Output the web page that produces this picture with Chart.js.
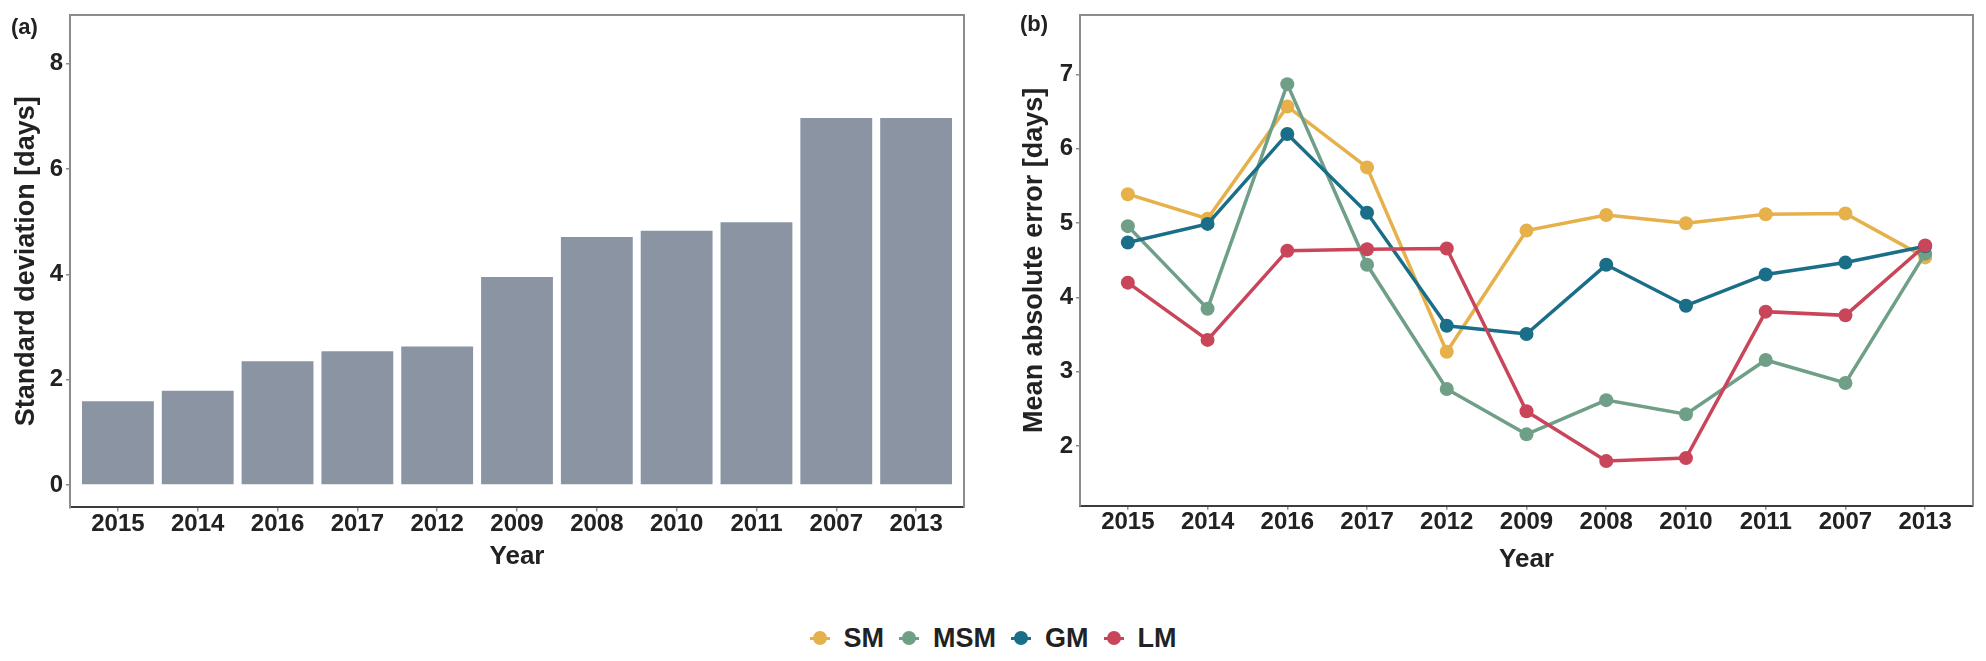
<!DOCTYPE html>
<html>
<head>
<meta charset="utf-8">
<title>SD and MAE by year</title>
<script src="https://cdn.jsdelivr.net/npm/chart.js@4.4.0/dist/chart.umd.min.js"></script>
<style>
  body { margin: 0; background: #fff; width: 1986px; height: 661px; position: relative; overflow: hidden;
         font-family: "Liberation Sans", Arial, sans-serif; }
  #sdChart { position: absolute; left: 0; top: 0; }
  #maeChart { position: absolute; left: 1000px; top: 0; }
  #legend { position: absolute; left: 0; top: 620px; width: 1986px; height: 36px; display: flex;
            justify-content: center; align-items: center; font-weight: bold; font-size: 27px; color: #222; }
  .item { display: flex; align-items: center; margin-right: 15px; }
  .item:last-child { margin-right: 0; }
  .key { position: relative; width: 20px; height: 16px; margin-right: 14px; }
  .key:before { content: ""; position: absolute; left: 0; right: 0; top: 6.5px; height: 3px; background: var(--c); }
  .key:after { content: ""; position: absolute; left: 3px; top: 1px; width: 14px; height: 14px; border-radius: 50%; background: var(--c); }
</style>
</head>
<body>
<canvas id="sdChart" width="990" height="570"></canvas>
<canvas id="maeChart" width="986" height="573"></canvas>
<div id="legend"></div>
<script>
// years in the order of the x axis
var years = ["2015", "2014", "2016", "2017", "2012", "2009", "2008", "2010", "2011", "2007", "2013"];

// (a) standard deviation [days]
var sdValues = [1.59, 1.79, 2.35, 2.54, 2.63, 3.95, 4.71, 4.83, 4.99, 6.97, 6.97];
var sdTicks = [0, 2, 4, 6, 8];

// (b) mean absolute error [days]
var seriesNames = ["SM", "MSM", "GM", "LM"];
var smValues  = [5.39, 5.06, 6.57, 5.75, 3.27, 4.90, 5.11, 5.00, 5.12, 5.13, 4.54];
var msmValues = [4.96, 3.85, 6.87, 4.44, 2.77, 2.16, 2.62, 2.43, 3.16, 2.85, 4.59];
var gmValues  = [4.74, 4.99, 6.20, 5.14, 3.62, 3.51, 4.44, 3.89, 4.31, 4.47, 4.69];
var lmValues  = [4.20, 3.43, 4.63, 4.65, 4.66, 2.47, 1.80, 1.84, 3.81, 3.76, 4.70];
var maeTicks = [2, 3, 4, 5, 6, 7];

var colors = { SM: "#E6B04B", MSM: "#6F9F87", GM: "#1A6E87", LM: "#C9465A" };

Chart.defaults.font.family = '"Liberation Sans", Arial, sans-serif';
Chart.defaults.color = "#222";

function toPoints(vals) {
  return vals.map(function (v, i) { return { x: i, y: v }; });
}

function xAxis(h) {
  return {
    type: "linear", min: -0.6, max: 10.6, offset: false,
    afterBuildTicks: function (s) { s.ticks = years.map(function (y, i) { return { value: i }; }); },
    afterFit: function (s) { s.height = h; },
    ticks: {
      callback: function (v) { return years[v]; },
      font: { size: 24, weight: "bold", lineHeight: 1 }, color: "#222",
      padding: 1, maxRotation: 0, autoSkip: false
    },
    grid: { drawOnChartArea: false, tickLength: 4, color: "#8c8c8c", lineWidth: 1.5, offset: false },
    border: { color: "#3c3c3c", width: 2 },
    title: { display: true, text: "Year", font: { size: 26, weight: "bold", lineHeight: 1 }, color: "#222", padding: 0 }
  };
}

function yAxis(min, max, ticks, title, w, titlePad) {
  return {
    type: "linear", min: min, max: max,
    afterBuildTicks: function (s) { s.ticks = ticks.map(function (v) { return { value: v }; }); },
    afterFit: function (s) { s.width = w; },
    ticks: { font: { size: 24, weight: "bold", lineHeight: 1 }, color: "#222", padding: 3 },
    grid: { drawOnChartArea: false, tickLength: 4, color: "#8c8c8c", lineWidth: 1.5 },
    border: { color: "#8c8c8c", width: 2 },
    title: { display: true, text: title, font: { size: 27, weight: "bold", lineHeight: 1 }, color: "#222",
             padding: { top: titlePad, bottom: 0 } }
  };
}

// grey panel frame (top/left/right) and the panel letter
var framePlugin = {
  id: "frame",
  afterDraw: function (chart, args, opts) {
    var a = chart.chartArea, ctx = chart.ctx;
    ctx.save();
    ctx.strokeStyle = "#8c8c8c";
    ctx.lineWidth = 2;
    ctx.beginPath();
    ctx.moveTo(a.left, a.bottom);
    ctx.lineTo(a.left, a.top);
    ctx.lineTo(a.right, a.top);
    ctx.lineTo(a.right, a.bottom);
    ctx.stroke();
    ctx.font = 'bold 22px "Liberation Sans", Arial, sans-serif';
    ctx.fillStyle = "#222";
    ctx.textBaseline = "middle";
    ctx.fillText(opts.label, opts.x, opts.y);
    ctx.restore();
  }
};

new Chart(document.getElementById("sdChart"), {
  type: "bar",
  data: {
    datasets: [{
      data: toPoints(sdValues),
      backgroundColor: "#8A94A2",
      barPercentage: 0.9,
      categoryPercentage: 1
    }]
  },
  options: {
    responsive: false, animation: false, devicePixelRatio: 1,
    layout: { padding: { left: 0, top: 14, right: 26, bottom: 0 } },
    scales: {
      x: xAxis(62.6),
      y: yAxis(-0.425, 8.925, sdTicks, "Standard deviation [days]", 70, 13)
    },
    plugins: { legend: { display: false }, tooltip: { enabled: false }, frame: { label: "(a)", x: 11, y: 28 } }
  },
  plugins: [framePlugin]
});

var lineSets = [
  { name: "SM", values: smValues, order: 3 },
  { name: "MSM", values: msmValues, order: 2 },
  { name: "GM", values: gmValues, order: 1 },
  { name: "LM", values: lmValues, order: 0 }
];

new Chart(document.getElementById("maeChart"), {
  type: "line",
  data: {
    datasets: lineSets.map(function (s) {
      return {
        label: s.name,
        data: toPoints(s.values),
        order: s.order,
        borderColor: colors[s.name],
        backgroundColor: colors[s.name],
        borderWidth: 3.5,
        pointRadius: 7,
        pointBorderWidth: 0,
        tension: 0,
        fill: false
      };
    })
  },
  options: {
    responsive: false, animation: false, devicePixelRatio: 1,
    layout: { padding: { left: 0, top: 11, right: 13, bottom: 0 } },
    scales: {
      x: xAxis(67.3),
      y: yAxis(1.2, 7.8, maeTicks, "Mean absolute error [days]", 80, 21.5)
    },
    plugins: { legend: { display: false }, tooltip: { enabled: false }, frame: { label: "(b)", x: 20, y: 25 } }
  },
  plugins: [framePlugin]
});

// shared legend under both panels
var legend = document.getElementById("legend");
seriesNames.forEach(function (n) {
  var item = document.createElement("div");
  item.className = "item";
  var key = document.createElement("span");
  key.className = "key";
  key.style.setProperty("--c", colors[n]);
  var txt = document.createElement("span");
  txt.textContent = n;
  item.appendChild(key);
  item.appendChild(txt);
  legend.appendChild(item);
});
</script>
</body>
</html>
